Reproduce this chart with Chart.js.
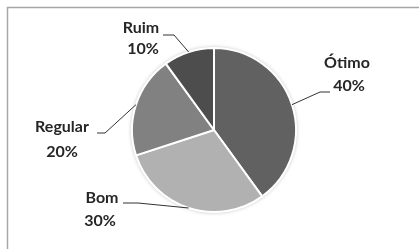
<!DOCTYPE html>
<html>
<head>
<meta charset="utf-8">
<script src="https://cdn.jsdelivr.net/npm/chart.js@4"></script>
<style>
  html, body { margin: 0; padding: 0; background: #fff; }
  #wrap { width: 419px; height: 249px; position: relative; }
</style>
</head>
<body>
<div id="wrap"><canvas id="chart" width="419" height="249"></canvas></div>
<script>
const categories = ['Ótimo', 'Bom', 'Regular', 'Ruim'];
const values = [40, 30, 20, 10];
const sliceColors = ['#616161', '#b1b1b1', '#818181', '#4d4d4d'];

// where each label sits and the elbow of its leader line
const labelLayout = [
  { name: [347, 63], pct: [349, 86], elbow: [[320, 92], [330, 92]] },
  { name: [102, 198], pct: [100, 221], elbow: [[138, 203], [123, 203]] },
  { name: [62, 127], pct: [62, 152], elbow: [[105, 133], [97, 133]] },
  { name: [141, 28], pct: [143, 49], elbow: [[174, 35], [163, 35]] }
];

const framePlugin = {
  id: 'frame',
  beforeDraw(chart) {
    const ctx = chart.ctx;
    ctx.save();
    ctx.strokeStyle = '#a6a6a6';
    ctx.lineWidth = 1.5;
    ctx.beginPath();
    ctx.moveTo(7.5, chart.height);
    ctx.lineTo(7.5, 7.5);
    ctx.lineTo(chart.width, 7.5);
    ctx.stroke();
    ctx.restore();
  }
};

const shadowPlugin = {
  id: 'pieShadow',
  beforeDatasetsDraw(chart) {
    const arc = chart.getDatasetMeta(0).data[0];
    const ctx = chart.ctx;
    ctx.save();
    ctx.shadowColor = 'rgba(0,0,0,0.35)';
    ctx.shadowBlur = 4;
    ctx.fillStyle = '#fff';
    ctx.beginPath();
    ctx.arc(arc.x, arc.y, arc.outerRadius, 0, Math.PI * 2);
    ctx.fill();
    ctx.restore();
  }
};

const labelPlugin = {
  id: 'leaderLabels',
  afterDatasetsDraw(chart) {
    const ctx = chart.ctx;
    const meta = chart.getDatasetMeta(0);
    const total = values.reduce((a, b) => a + b, 0);
    ctx.save();
    meta.data.forEach((arc, i) => {
      const lay = labelLayout[i];
      const mid = (arc.startAngle + arc.endAngle) / 2;
      const ax = arc.x + Math.cos(mid) * arc.outerRadius;
      const ay = arc.y + Math.sin(mid) * arc.outerRadius;

      ctx.strokeStyle = '#333';
      ctx.lineWidth = 1;
      ctx.beginPath();
      ctx.moveTo(ax, ay);
      lay.elbow.forEach(p => ctx.lineTo(p[0], p[1]));
      ctx.stroke();

      ctx.fillStyle = '#262626';
      ctx.font = 'bold 16px Lato';
      ctx.textAlign = 'center';
      ctx.textBaseline = 'middle';
      ctx.fillText(categories[i], lay.name[0], lay.name[1]);
      const pct = Math.round(values[i] / total * 100) + '%';
      ctx.fillText(pct, lay.pct[0], lay.pct[1]);
    });
    ctx.restore();
  }
};

new Chart(document.getElementById('chart'), {
  type: 'pie',
  data: {
    labels: categories,
    datasets: [{
      data: values,
      backgroundColor: sliceColors,
      borderColor: '#ffffff',
      borderWidth: 2
    }]
  },
  options: {
    responsive: false,
    animation: false,
    layout: { padding: { top: 47, bottom: 36, left: 50, right: 41 } },
    plugins: {
      legend: { display: false },
      tooltip: { enabled: false }
    }
  },
  plugins: [framePlugin, shadowPlugin, labelPlugin]
});
</script>
</body>
</html>
